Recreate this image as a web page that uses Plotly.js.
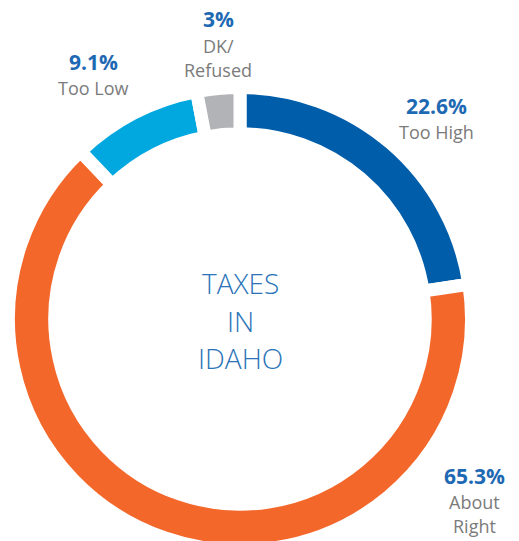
<!DOCTYPE html>
<html>
<head>
<meta charset="utf-8">
<script src="https://cdn.plot.ly/plotly-3.0.1.min.js"></script>
<style>
html,body{margin:0;padding:0;overflow:hidden;background:#fff;}
#chart{width:519px;height:560px;}
</style>
</head>
<body>
<div id="chart"></div>
<script>
const categories = ["Too High", "About Right", "Too Low", "DK/Refused"];
const values = [22.6, 65.3, 9.1, 3];
const pctLabels = ["22.6%", "65.3%", "9.1%", "3%"];
const catLabels = [["Too High"], ["About", "Right"], ["Too Low"], ["DK/", "Refused"]];
const colors = ["#005DAA", "#F3672B", "#00A8DF", "#B1B3B6"];
const centerLines = ["TAXES", "IN", "IDAHO"];

const W = 519, H = 560;
const cx = 240, cy = 319, R = 231.5;
const py = p => 1 - p / H;

const trace = {
  type: "pie",
  labels: categories,
  values: values,
  sort: false,
  direction: "clockwise",
  rotation: 0,
  hole: 0.80,
  textinfo: "none",
  hoverinfo: "none",
  marker: { colors: colors, line: { color: "#ffffff", width: 13 } },
  domain: { x: [(cx - R) / W, (cx + R) / W], y: [(H - cy - R) / H, (H - cy + R) / H] },
  showlegend: false
};

const pctFont = { family: "Open Sans, sans-serif", size: 21, color: "#1E69B3", weight: 700 };
const catFont = { family: "Open Sans, sans-serif", size: 18, color: "#7B7B7B" };
const centerFont = { family: "Open Sans, sans-serif", size: 28, color: "#2A73B8", weight: 300 };

// label placements (pixel positions from top-left): percent y, first-line y
const labelX = [436, 474, 93, 218];
const pctY = [106, 476, 62, 19];
const catY = [132, 502, 88, 46];
const lineGap = 24;

const annotations = [];
const ann = (text, xp, yp, font) => ({ text: text, x: xp / W, y: py(yp), xref: "paper", yref: "paper", xanchor: "center", yanchor: "middle", showarrow: false, borderpad: 0, font: font });
for (let i = 0; i < categories.length; i++) {
  annotations.push(ann("<b>" + pctLabels[i] + "</b>", labelX[i], pctY[i], pctFont));
  catLabels[i].forEach((line, j) => annotations.push(ann(line, labelX[i], catY[i] + j * lineGap, catFont)));
}
const centerY = [283, 321, 358];
centerLines.forEach((t, i) => annotations.push(ann(t, cx, centerY[i], centerFont)));

const layout = {
  width: W, height: H,
  margin: { l: 0, r: 0, t: 0, b: 0 },
  paper_bgcolor: "#ffffff",
  plot_bgcolor: "#ffffff",
  annotations: annotations
};

Plotly.newPlot("chart", [trace], layout, { displayModeBar: false, staticPlot: true });
</script>
</body>
</html>
